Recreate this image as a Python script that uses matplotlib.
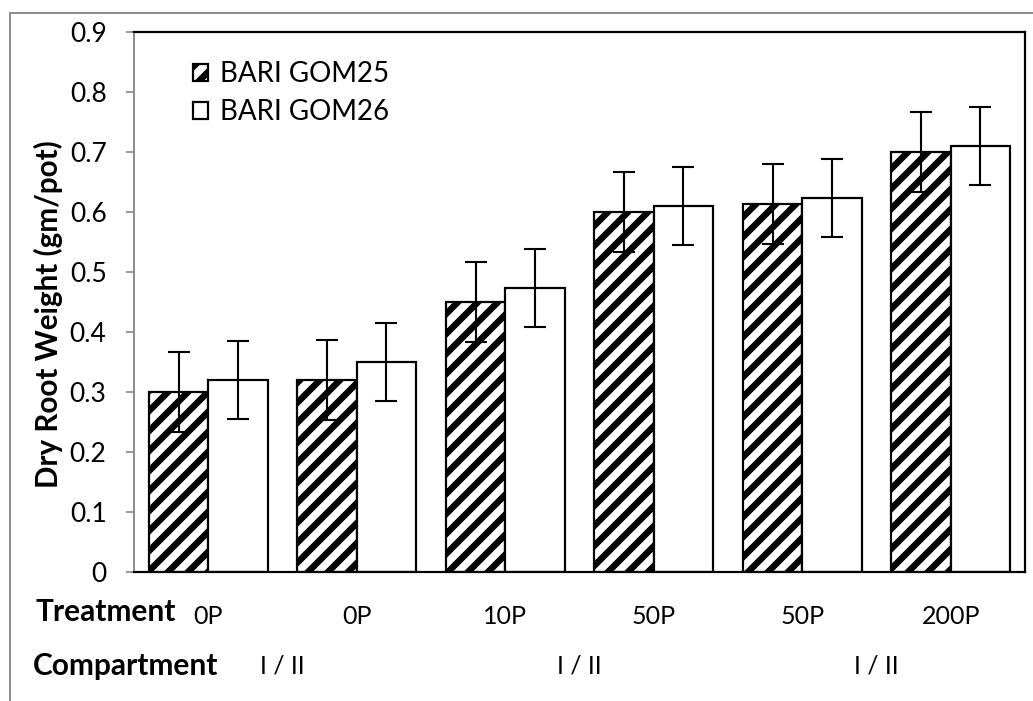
import numpy as np
import matplotlib
matplotlib.use("Agg")
import matplotlib.pyplot as plt
from matplotlib.patches import Rectangle

DPI = 120
W, H = 1033, 701


def px(v):
    """Convert a length in output pixels to points."""
    return v * 72 / DPI


plt.rcParams['font.family'] = ['Lato', 'DejaVu Sans']
plt.rcParams['hatch.linewidth'] = px(6.5)
plt.rcParams['hatch.color'] = 'black'

# Data
treatments = ["0P", "0P", "10P", "50P", "50P", "200P"]
compartments = ["I / II", "I / II", "I / II"]
series_names = ["BARI GOM25", "BARI GOM26"]
gom25 = [0.30, 0.32, 0.45, 0.60, 0.613, 0.70]
gom26 = [0.32, 0.35, 0.473, 0.61, 0.623, 0.71]
gom25_err = [0.067, 0.067, 0.067, 0.067, 0.067, 0.067]
gom26_err = [0.065, 0.065, 0.065, 0.065, 0.065, 0.065]
yticks = [0, 0.1, 0.2, 0.3, 0.4, 0.5, 0.6, 0.7, 0.8, 0.9]
ytick_labels = ["0", "0.1", "0.2", "0.3", "0.4", "0.5", "0.6", "0.7", "0.8", "0.9"]

fig = plt.figure(figsize=(W / DPI, H / DPI), dpi=DPI)

# outer chart-area frame
fig.patches.append(Rectangle((10 / W, -0.2), 1.2, 1 - 13 / H + 0.2,
                             transform=fig.transFigure, fill=False,
                             edgecolor='#8a8a8a', linewidth=px(1.9), zorder=0))

ax = fig.add_axes([134 / W, 1 - 572 / H, 891 / W, 540 / H])

x = np.arange(len(treatments))
bw = 0.4
err_kw = dict(ecolor='black', elinewidth=px(2.1), capsize=px(11),
              capthick=px(2.1))

ax.bar(x - bw / 2, gom25, bw, facecolor='white', edgecolor='black',
       linewidth=px(2.2), hatch='//', label=series_names[0],
       yerr=gom25_err, error_kw=err_kw, zorder=2)
ax.bar(x + bw / 2, gom26, bw, facecolor='white', edgecolor='black',
       linewidth=px(2.2), label=series_names[1],
       yerr=gom26_err, error_kw=err_kw, zorder=2)

ax.set_xlim(-0.5, len(treatments) - 0.5)
ax.set_ylim(0, 0.9)
ax.set_yticks(yticks, ytick_labels)
ax.tick_params(axis='y', direction='out', length=px(8), width=px(1.7),
               color='#8a8a8a', labelsize=px(26.4), pad=px(19.4))
ax.set_xticks(x, treatments)
ax.tick_params(axis='x', length=0, labelsize=px(25), pad=px(33.3))

for side in ['top', 'right', 'bottom']:
    ax.spines[side].set_color('black')
    ax.spines[side].set_linewidth(px(2.2))
ax.spines['left'].set_color('#8a8a8a')
ax.spines['left'].set_linewidth(px(1.9))

# compartment labels, centred between paired treatments
for i, lab in enumerate(compartments):
    ax.text(2 * i + 0.5, -(666 - 572) / 540, lab,
            transform=ax.get_xaxis_transform(),
            ha='center', va='center', fontsize=px(25))

fig.text(35 / W, 1 - 612 / H, "Treatment", fontsize=px(29.9),
         fontweight='bold', ha='left', va='center')
fig.text(33 / W, 1 - 666 / H, "Compartment", fontsize=px(29.9),
         fontweight='bold', ha='left', va='center')
fig.text(48 / W, 1 - 314 / H, "Dry Root Weight (gm/pot)", fontsize=px(29.6),
         fontweight='bold', rotation=90, ha='center', va='center')

ax.legend(loc='upper left', bbox_to_anchor=(0.066, 0.946), frameon=False,
          fontsize=px(27.8), handlelength=0.55, handleheight=0.55,
          handletextpad=0.43, labelspacing=0.43, borderpad=0, borderaxespad=0)

fig.savefig("out.png", dpi=DPI)
